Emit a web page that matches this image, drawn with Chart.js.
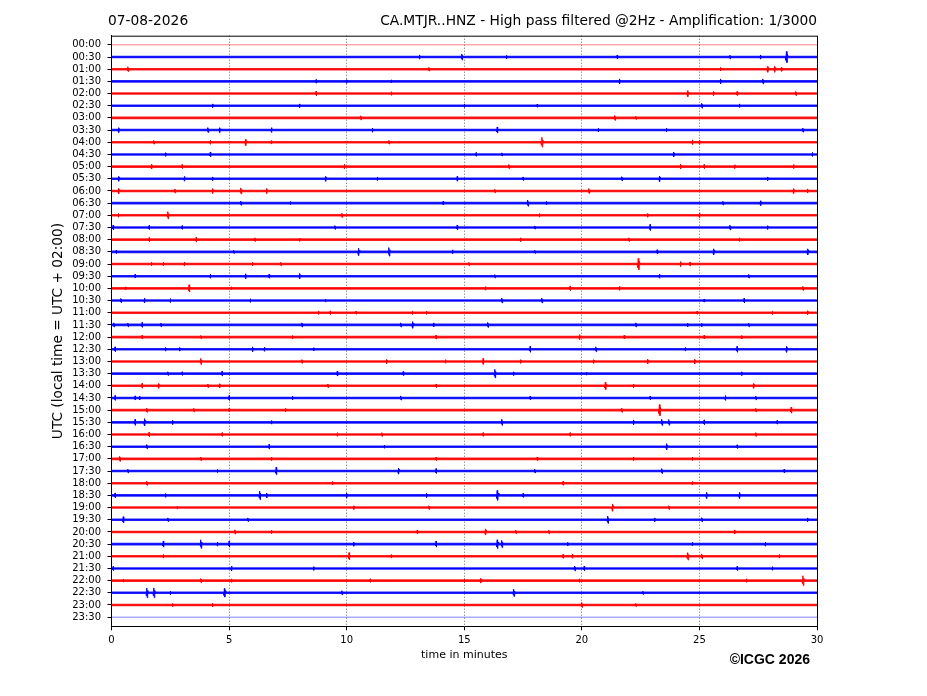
<!DOCTYPE html>
<html>
<head>
<meta charset="utf-8">
<script src="https://cdn.jsdelivr.net/npm/chart.js@4.4.1/dist/chart.umd.min.js"></script>
<style>
  body { margin: 0; background: #fff; }
  #wrap { width: 927px; height: 696px; }
</style>
</head>
<body>
<div id="wrap"><canvas id="heli" width="927" height="696"></canvas></div>
<script>
const dateLabel = '07-08-2026';
const stationTitle = 'CA.MTJR..HNZ - High pass filtered @2Hz - Amplification: 1/3000';
const copyright = '\u00A9ICGC 2026';

// one row per half hour, top to bottom
const hourLabels = [
  '00:00','00:30','01:00','01:30','02:00','02:30','03:00','03:30',
  '04:00','04:30','05:00','05:30','06:00','06:30','07:00','07:30',
  '08:00','08:30','09:00','09:30','10:00','10:30','11:00','11:30',
  '12:00','12:30','13:00','13:30','14:00','14:30','15:00','15:30',
  '16:00','16:30','17:00','17:30','18:00','18:30','19:00','19:30',
  '20:00','20:30','21:00','21:30','22:00','22:30','23:00','23:30'
];
const minuteTicks = [0, 5, 10, 15, 20, 25, 30];

// rows without signal (drawn thin and pale)
const quietRows = [0, 47];

// visible bursts per row: [minute, amplitude in row spacings]
const bursts = [
  [],
  [[13.1,0.12],[14.9,0.2],[16.8,0.1],[21.5,0.1],[26.3,0.1],[27.6,0.12],[28.7,0.4]],
  [[0.7,0.15],[13.5,0.1],[25.9,0.1],[27.9,0.2],[28.2,0.2],[28.5,0.12]],
  [[8.7,0.1],[10.0,0.1],[11.9,0.08],[21.6,0.15],[25.9,0.15],[27.7,0.15]],
  [[8.7,0.15],[11.9,0.1],[24.5,0.2],[25.6,0.12],[26.6,0.12],[29.1,0.12]],
  [[4.3,0.1],[8.0,0.1],[15.0,0.1],[18.1,0.08],[25.1,0.15],[26.7,0.1]],
  [[10.6,0.12],[21.4,0.15],[22.3,0.08]],
  [[0.3,0.15],[4.1,0.15],[4.6,0.15],[6.8,0.15],[11.1,0.12],[16.4,0.2],[20.7,0.1],[23.6,0.1],[29.4,0.12]],
  [[1.8,0.1],[4.2,0.12],[5.7,0.22],[6.8,0.1],[11.8,0.1],[18.3,0.35],[24.7,0.15],[25.0,0.12]],
  [[2.3,0.1],[4.2,0.15],[15.5,0.1],[16.6,0.08],[23.9,0.15],[29.8,0.12]],
  [[1.7,0.15],[3.0,0.12],[9.9,0.15],[16.9,0.12],[24.2,0.15],[25.2,0.12],[26.5,0.1],[29.0,0.12]],
  [[0.3,0.15],[3.1,0.15],[4.3,0.1],[9.1,0.15],[11.3,0.1],[14.7,0.15],[17.5,0.1],[21.7,0.12],[23.3,0.18],[27.9,0.1]],
  [[0.3,0.18],[2.7,0.12],[4.3,0.15],[5.5,0.2],[6.6,0.15],[16.3,0.1],[20.3,0.15],[29.0,0.15],[29.6,0.12]],
  [[5.5,0.12],[7.6,0.08],[14.1,0.1],[17.7,0.2],[18.5,0.1],[26.0,0.1],[27.6,0.15]],
  [[0.3,0.1],[2.4,0.25],[9.8,0.12],[18.2,0.1],[22.8,0.1],[25.0,0.15]],
  [[0.07,0.15],[1.6,0.12],[3.0,0.1],[9.5,0.1],[14.7,0.15],[18.0,0.08],[22.9,0.2],[26.3,0.15],[27.9,0.1]],
  [[1.6,0.12],[3.6,0.15],[6.1,0.1],[8.0,0.08],[17.4,0.1],[22.0,0.1],[26.7,0.1]],
  [[0.2,0.1],[5.2,0.08],[10.5,0.25],[11.8,0.3],[14.5,0.12],[18.0,0.08],[23.2,0.12],[25.6,0.2],[29.6,0.2]],
  [[1.7,0.1],[2.2,0.1],[3.1,0.12],[6.0,0.1],[7.2,0.1],[15.2,0.08],[22.4,0.42],[24.2,0.15],[24.6,0.12]],
  [[1.0,0.1],[4.2,0.12],[5.7,0.15],[6.7,0.12],[8.0,0.18],[16.3,0.08],[23.3,0.12],[27.1,0.1]],
  [[0.6,0.08],[3.3,0.25],[5.1,0.08],[15.9,0.1],[19.5,0.15],[21.6,0.12],[29.4,0.12]],
  [[0.4,0.12],[1.4,0.15],[2.5,0.12],[5.9,0.1],[9.1,0.08],[16.6,0.15],[18.3,0.15],[25.2,0.08],[26.9,0.15]],
  [[8.8,0.1],[9.3,0.1],[10.4,0.08],[12.8,0.1],[13.4,0.08],[24.9,0.08],[28.1,0.1],[29.6,0.12]],
  [[0.1,0.12],[0.7,0.1],[1.3,0.15],[2.1,0.1],[8.1,0.12],[12.3,0.12],[12.8,0.22],[13.7,0.12],[16.0,0.15],[22.3,0.12],[24.5,0.1],[25.1,0.08],[27.1,0.1]],
  [[1.3,0.1],[3.8,0.08],[7.7,0.08],[13.8,0.12],[19.9,0.15],[21.8,0.1],[25.2,0.1],[26.8,0.08]],
  [[0.15,0.15],[2.3,0.1],[2.9,0.1],[6.0,0.15],[6.5,0.12],[8.6,0.08],[17.8,0.2],[20.6,0.15],[24.4,0.1],[26.6,0.2],[28.7,0.2]],
  [[3.8,0.2],[8.1,0.1],[11.7,0.12],[14.2,0.1],[15.8,0.2],[17.4,0.1],[20.5,0.1],[22.8,0.15],[24.8,0.15]],
  [[2.4,0.1],[3.0,0.1],[4.7,0.15],[9.6,0.15],[12.4,0.12],[16.3,0.3],[17.1,0.1],[20.2,0.08],[26.8,0.1]],
  [[1.3,0.15],[2.0,0.15],[4.1,0.1],[4.6,0.12],[9.2,0.1],[13.8,0.1],[21.0,0.25],[22.2,0.1],[27.3,0.15]],
  [[0.15,0.15],[1.0,0.12],[1.2,0.1],[5.0,0.15],[7.7,0.1],[12.3,0.12],[17.8,0.1],[22.9,0.1],[26.1,0.15],[27.4,0.1]],
  [[1.5,0.12],[3.5,0.1],[5.0,0.1],[7.4,0.1],[21.7,0.12],[23.3,0.4],[27.4,0.1],[28.9,0.2]],
  [[1.0,0.2],[1.4,0.25],[2.6,0.12],[6.8,0.1],[16.6,0.2],[22.2,0.15],[23.4,0.2],[23.7,0.18],[25.2,0.15],[28.3,0.1]],
  [[1.6,0.15],[4.7,0.1],[9.6,0.1],[11.5,0.1],[15.8,0.1],[19.5,0.1],[27.4,0.1]],
  [[1.5,0.12],[6.7,0.15],[11.6,0.08],[23.6,0.2],[26.6,0.1]],
  [[0.35,0.15],[3.8,0.1],[6.8,0.1],[13.8,0.1],[18.1,0.1],[22.2,0.1],[24.7,0.1]],
  [[0.7,0.1],[4.5,0.08],[7.0,0.25],[12.2,0.2],[13.8,0.15],[18.0,0.1],[23.4,0.15],[28.6,0.1]],
  [[1.5,0.12],[9.4,0.1],[19.2,0.12],[24.7,0.1]],
  [[0.15,0.15],[2.3,0.1],[6.3,0.3],[6.6,0.15],[10.0,0.15],[13.4,0.12],[16.4,0.35],[17.5,0.12],[25.3,0.2],[26.7,0.2]],
  [[2.8,0.08],[10.3,0.1],[13.5,0.1],[21.3,0.25],[23.7,0.1]],
  [[0.5,0.2],[2.4,0.1],[5.8,0.1],[21.1,0.25],[23.1,0.1],[25.1,0.12],[29.6,0.1]],
  [[5.25,0.12],[6.8,0.1],[13.0,0.1],[15.9,0.2],[17.2,0.1],[18.6,0.1],[26.5,0.12]],
  [[2.2,0.2],[3.8,0.3],[4.5,0.12],[5.0,0.2],[10.3,0.12],[13.8,0.2],[16.4,0.3],[16.6,0.25],[19.4,0.1],[24.7,0.1],[27.8,0.12]],
  [[2.2,0.1],[10.1,0.25],[11.9,0.1],[19.2,0.12],[19.6,0.12],[24.5,0.25],[25.1,0.15],[28.4,0.1]],
  [[0.07,0.12],[5.1,0.15],[8.6,0.1],[19.7,0.15],[20.1,0.15],[26.6,0.12],[28.1,0.1]],
  [[0.5,0.08],[3.8,0.12],[5.1,0.1],[11.0,0.1],[15.0,0.1],[15.7,0.15],[19.9,0.1],[27.0,0.1],[29.4,0.35]],
  [[1.5,0.35],[1.8,0.35],[2.5,0.1],[4.8,0.3],[9.8,0.12],[17.1,0.25],[22.6,0.08]],
  [[2.6,0.08],[4.3,0.1],[20.0,0.15],[22.3,0.08]],
  []
];

// wiggle drawn for each burst: [minute offset, fraction of amplitude]
const wiggle = [[-0.02,0],[-0.01,-0.6],[0,1],[0.01,-1],[0.02,0.5],[0.035,0]];
const minSwing = 0.05;   // keeps the smallest ticks visible outside the noise band

function tracePoints(row, list) {
  const pts = [{x: 0, y: row}];
  list.slice().sort((a, b) => a[0] - b[0]).forEach(([m, a]) => {
    const spread = 0.6 + a * 4;
    const amp = a + minSwing;
    wiggle.forEach(([dx, f]) => pts.push({x: m + dx * spread, y: row - amp * f}));
  });
  pts.push({x: 30, y: row});
  return pts;
}

const datasets = [];
hourLabels.forEach((lbl, i) => {
  const quiet = quietRows.includes(i);
  const rgb = i % 2 ? '0,0,255' : '255,0,0';
  // background noise band
  datasets.push({
    label: lbl + ' noise',
    data: [{x: 0, y: i}, {x: 30, y: i}],
    borderColor: `rgba(${rgb},${quiet ? 0.5 : 0.85})`,
    borderWidth: quiet ? 1 : 2.6,
    pointRadius: 0
  });
  // bursts
  if (bursts[i].length) {
    datasets.push({
      label: lbl,
      data: tracePoints(i, bursts[i]),
      borderColor: `rgb(${rgb})`,
      borderWidth: 1,
      borderJoinStyle: 'bevel',
      pointRadius: 0,
      tension: 0
    });
  }
});

const frame = {
  id: 'frame',
  afterDraw(chart) {
    const {ctx, chartArea: a} = chart;
    ctx.save();
    ctx.strokeStyle = '#000';
    ctx.lineWidth = 1;
    ctx.beginPath();
    ctx.moveTo(a.left, a.top + 0.5);
    ctx.lineTo(a.right + 0.5, a.top + 0.5);
    ctx.lineTo(a.right + 0.5, a.bottom);
    ctx.stroke();

    ctx.fillStyle = '#000';
    ctx.font = '13.8px "DejaVu Sans"';
    ctx.textBaseline = 'alphabetic';
    ctx.textAlign = 'left';
    ctx.fillText(dateLabel, 108, 24.5);
    ctx.textAlign = 'right';
    ctx.fillText(stationTitle, 817, 24.5);
    ctx.font = 'bold 14px "Liberation Sans"';
    ctx.fillText(copyright, 810, 663.5);
    ctx.restore();
  }
};

const tickFont = {family: 'DejaVu Sans', size: 10};

new Chart(document.getElementById('heli'), {
  type: 'line',
  data: { datasets },
  plugins: [frame],
  options: {
    responsive: false,
    animation: false,
    devicePixelRatio: 1,
    parsing: false,
    layout: { padding: { left: 46.5, right: 110, top: 35.7, bottom: 30 } },
    plugins: { legend: { display: false }, tooltip: { enabled: false } },
    scales: {
      x: {
        type: 'linear', min: 0, max: 30,
        afterBuildTicks: s => { s.ticks = minuteTicks.map(v => ({value: v})); },
        afterFit: s => { s.height = 39.7; },
        ticks: { font: tickFont, color: '#000', padding: 4, maxRotation: 0 },
        grid: { color: '#444', lineWidth: 0.8, tickColor: '#000',
                tickBorderDash: [], tickLength: 4, tickWidth: 1 },
        border: { color: '#000', width: 1, dash: [1, 2] },
        title: { display: true, text: 'time in minutes', color: '#000',
                 font: {family: 'DejaVu Sans', size: 11}, padding: {top: 4, bottom: 4} }
      },
      y: {
        type: 'linear', reverse: true, min: -0.75, max: 47.75,
        afterBuildTicks: s => { s.ticks = hourLabels.map((_, i) => ({value: i})); },
        afterFit: s => { s.width = 65; },
        ticks: { callback: v => hourLabels[v], font: tickFont, color: '#000', padding: 6.5, autoSkip: false },
        grid: { drawOnChartArea: false, tickLength: 4, color: '#000' },
        border: { color: '#000', width: 1 },
        title: { display: true, text: 'UTC (local time = UTC + 02:00)', color: '#000',
                 font: {family: 'DejaVu Sans', size: 13.7}, padding: {top: 4, bottom: 4} }
      }
    }
  }
});
</script>
</body>
</html>
